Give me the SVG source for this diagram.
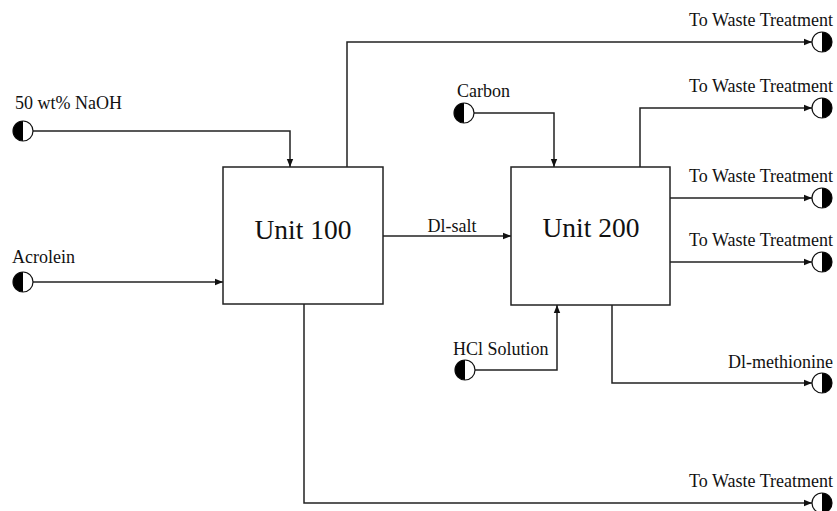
<svg xmlns="http://www.w3.org/2000/svg" width="837" height="511" viewBox="0 0 837 511">
<defs>
<marker id="arr" viewBox="0 0 10 10" refX="10" refY="5" markerWidth="8" markerHeight="8" markerUnits="userSpaceOnUse" orient="auto">
<path d="M0,1 L10,5 L0,9 z" fill="#111"/>
</marker>
</defs>
<style>
.box{fill:#fff;stroke:#222;stroke-width:1.5}
.ln{fill:none;stroke:#222;stroke-width:1.5}
.cir{fill:#fff;stroke:#111;stroke-width:1.2}
.half{fill:#000}
.lbl{font-size:18px;fill:#111}
.unit{font-size:27.5px;fill:#111;text-anchor:middle}
.r{text-anchor:end}
</style>
<rect width="837" height="511" fill="#fff"/>
<g font-family="'Liberation Serif', 'Times New Roman', 'DejaVu Serif', serif">
<g id="connectors">
<path class="ln" d="M33,131 H290 V167" marker-end="url(#arr)"/>
<path class="ln" d="M33,282 H223" marker-end="url(#arr)"/>
<path class="ln" d="M347,167 V42 H812" marker-end="url(#arr)"/>
<path class="ln" d="M304,304 V503 H812" marker-end="url(#arr)"/>
<path class="ln" d="M383,236 H511" marker-end="url(#arr)"/>
<path class="ln" d="M474,113 H554 V167" marker-end="url(#arr)"/>
<path class="ln" d="M475,370 H557 V305" marker-end="url(#arr)"/>
<path class="ln" d="M640,167 V108 H812" marker-end="url(#arr)"/>
<path class="ln" d="M670,198 H812" marker-end="url(#arr)"/>
<path class="ln" d="M670,262 H812" marker-end="url(#arr)"/>
<path class="ln" d="M612,305 V383 H812" marker-end="url(#arr)"/>
<text class="lbl" x="452" y="232" text-anchor="middle">Dl-salt</text>
</g>
<g id="unit100">
<rect class="box" x="223" y="167" width="160" height="137"/>
<text class="unit" x="303" y="239">Unit 100</text>
</g>
<g id="unit200">
<rect class="box" x="511" y="167" width="159" height="138"/>
<text class="unit" x="591" y="237">Unit 200</text>
</g>
<g id="naoh">
<circle class="cir" cx="23" cy="131" r="10"/>
<path class="half" d="M23,121 A10,10 0 0 0 23,141 z"/>
<text class="lbl" x="15" y="109">50 wt% NaOH</text>
</g>
<g id="acrolein">
<circle class="cir" cx="23" cy="282" r="10"/>
<path class="half" d="M23,272 A10,10 0 0 0 23,292 z"/>
<text class="lbl" x="12" y="263">Acrolein</text>
</g>
<g id="carbon">
<circle class="cir" cx="464" cy="113" r="10"/>
<path class="half" d="M464,103 A10,10 0 0 0 464,123 z"/>
<text class="lbl" x="457" y="97">Carbon</text>
</g>
<g id="hcl">
<circle class="cir" cx="465" cy="370" r="10"/>
<path class="half" d="M465,360 A10,10 0 0 0 465,380 z"/>
<text class="lbl" x="453" y="355">HCl Solution</text>
</g>
<g id="waste1">
<circle class="cir" cx="822" cy="42" r="10"/>
<path class="half" d="M822,32 A10,10 0 0 1 822,52 z"/>
<text class="lbl r" x="833" y="26">To Waste Treatment</text>
</g>
<g id="waste2">
<circle class="cir" cx="822" cy="108" r="10"/>
<path class="half" d="M822,98 A10,10 0 0 1 822,118 z"/>
<text class="lbl r" x="833" y="92">To Waste Treatment</text>
</g>
<g id="waste3">
<circle class="cir" cx="822" cy="198" r="10"/>
<path class="half" d="M822,188 A10,10 0 0 1 822,208 z"/>
<text class="lbl r" x="833" y="182">To Waste Treatment</text>
</g>
<g id="waste4">
<circle class="cir" cx="822" cy="262" r="10"/>
<path class="half" d="M822,252 A10,10 0 0 1 822,272 z"/>
<text class="lbl r" x="833" y="246">To Waste Treatment</text>
</g>
<g id="methionine">
<circle class="cir" cx="822" cy="383" r="10"/>
<path class="half" d="M822,373 A10,10 0 0 1 822,393 z"/>
<text class="lbl r" x="833" y="368">Dl-methionine</text>
</g>
<g id="waste5">
<circle class="cir" cx="822" cy="503" r="10"/>
<path class="half" d="M822,493 A10,10 0 0 1 822,513 z"/>
<text class="lbl r" x="833" y="487">To Waste Treatment</text>
</g>
</g>
</svg>
